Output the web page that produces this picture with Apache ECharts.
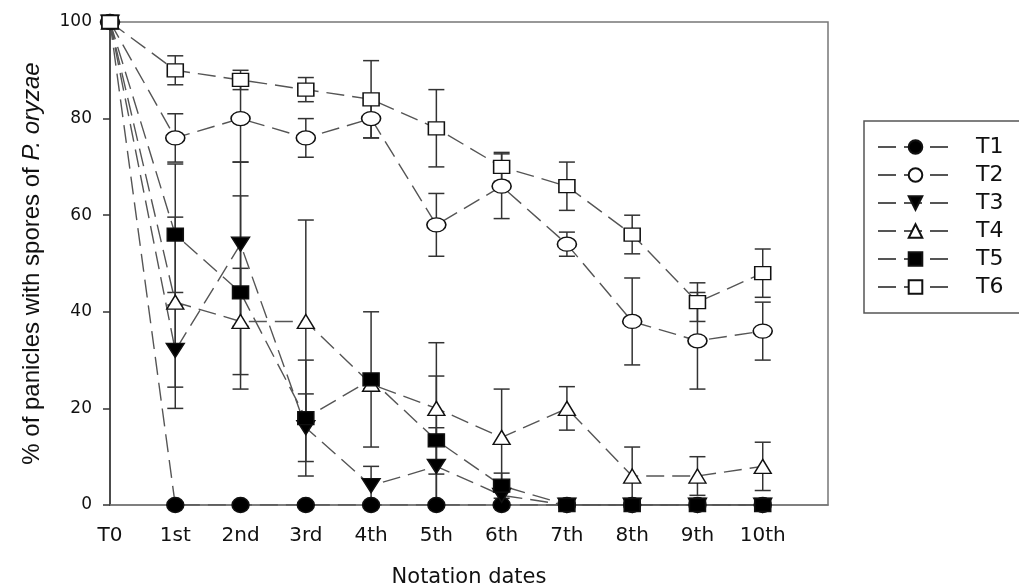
<!DOCTYPE html>
<html>
<head>
  <meta charset="utf-8" />
  <script src="https://cdn.jsdelivr.net/npm/echarts@6/dist/echarts.min.js"></script>
</head>
<body style="margin:0">
  <div id="main" style="width:1019px;height:588px;"></div>
  <script type="text/javascript">
    // notation dates on the x axis
    var dates = ['T0', '1st', '2nd', '3rd', '4th', '5th', '6th', '7th', '8th', '9th', '10th'];
    var yTicks = [0, 20, 40, 60, 80, 100];

    // % of panicles
    var t1 = [100, 0, 0, 0, 0, 0, 0, 0, 0, 0, 0];
    var t2 = [100, 76, 80, 76, 80, 58, 66, 54, 38, 34, 36];
    var t3 = [100, 32, 54, 16, 4, 8, 2, 0, 0, 0, 0];
    var t4 = [100, 42, 38, 38, 25, 20, 14, 20, 6, 6, 8];
    var t5 = [100, 56, 44, 18, 26, 13.4, 4, 0, 0, 0, 0];
    var t6 = [100, 90, 88, 86, 84, 78, 70, 66, 56, 42, 48];

    // error bars (+/-)
    var e1 = [0, 0, 0, 0, 0, 0, 0, 0, 0, 0, 0];
    var e2 = [0, 5, 9, 4, 4, 6.5, 6.7, 2.5, 9, 10, 6];
    var e3 = [0, 12, 17, 7, 4, 8, 2, 0, 0, 0, 0];
    var e4 = [0, 17.6, 11, 21, 1, 13.6, 10, 4.5, 6, 4, 5];
    var e5 = [0, 14.6, 20, 12, 14, 13.3, 2.6, 0, 0, 0, 0];
    var e6 = [0, 3, 2, 2.5, 8, 8, 3, 5, 4, 4, 5];

    var groups = [
      { name: 'T1', val: t1, err: e1, symbol: 'circle', size: [17, 15], fill: '#000', rot: 0 },
      { name: 'T2', val: t2, err: e2, symbol: 'circle', size: [19, 14], fill: '#fff', rot: 0 },
      { name: 'T3', val: t3, err: e3, symbol: 'triangle', size: [18, 14], fill: '#000', rot: 180 },
      { name: 'T4', val: t4, err: e4, symbol: 'triangle', size: [17, 14], fill: '#fff', rot: 0 },
      { name: 'T5', val: t5, err: e5, symbol: 'rect', size: [16, 13], fill: '#000', rot: 0 },
      { name: 'T6', val: t6, err: e6, symbol: 'rect', size: [16, 13], fill: '#fff', rot: 0 }
    ];

    var errData = [];
    groups.forEach(function (g) {
      g.val.forEach(function (v, i) {
        if (g.err[i] > 0) {
          errData.push([i, Math.max(0, v - g.err[i]), v + g.err[i]]);
        }
      });
    });

    var series = [{
      type: 'custom',
      z: 1,
      silent: true,
      data: errData,
      renderItem: function (params, api) {
        var x = api.value(0);
        var top = api.coord([x, api.value(2)]);
        var bot = api.coord([x, api.value(1)]);
        var w = 8;
        var st = { stroke: '#333', lineWidth: 1.5 };
        return {
          type: 'group',
          children: [
            { type: 'line', shape: { x1: top[0], y1: top[1], x2: bot[0], y2: bot[1] }, style: st },
            { type: 'line', shape: { x1: top[0] - w, y1: top[1], x2: top[0] + w, y2: top[1] }, style: st },
            { type: 'line', shape: { x1: bot[0] - w, y1: bot[1], x2: bot[0] + w, y2: bot[1] }, style: st }
          ]
        };
      }
    }];

    groups.forEach(function (g) {
      series.push({
        name: g.name,
        type: 'line',
        z: 3,
        data: g.val.map(function (v, i) { return [i, v]; }),
        symbol: g.symbol,
        symbolSize: g.size,
        symbolRotate: g.rot,
        showAllSymbol: true,
        itemStyle: { color: g.fill, borderColor: '#111', borderWidth: 1.4 },
        lineStyle: { color: '#555', width: 1.4, type: [18, 8] }
      });
    });

    var myChart = echarts.init(document.getElementById('main'));
    var option = {
      animation: false,
      backgroundColor: '#fff',
      grid: {
        left: 110, top: 22, right: 191, bottom: 83,
        outerBoundsMode: 'none',
        show: true, borderColor: '#777', borderWidth: 1.5
      },
      legend: {
        data: groups.map(function (g) { return g.name; }),
        orient: 'vertical',
        left: 864,
        top: 121,
        itemWidth: 75,
        itemHeight: 17,
        itemGap: 6,
        padding: [15, 60, 15, 13],
        borderColor: '#555',
        borderWidth: 1.5,
        textStyle: { fontFamily: 'DejaVu Sans', fontSize: 22, color: '#111', padding: [0, 0, 0, 18] }
      },
      xAxis: {
        type: 'value',
        min: 0,
        max: 11,
        interval: 1,
        name: 'Notation dates',
        nameLocation: 'middle',
        nameGap: 62,
        nameTextStyle: { fontFamily: 'DejaVu Sans', fontSize: 21, color: '#111' },
        axisLine: { show: true, lineStyle: { color: '#777', width: 1.5 } },
        axisTick: { show: false },
        splitLine: { show: false },
        axisLabel: {
          margin: 21,
          fontFamily: 'DejaVu Sans',
          fontSize: 20,
          color: '#111',
          formatter: function (v) { return dates[v] || ''; }
        }
      },
      yAxis: {
        type: 'value',
        min: yTicks[0],
        max: yTicks[yTicks.length - 1],
        interval: 20,
        name: '% of panicles with spores of {i|P. oryzae}',
        nameLocation: 'middle',
        nameGap: 66,
        nameTextStyle: {
          fontFamily: 'Liberation Sans', fontSize: 24, color: '#111',
          rich: { i: { fontFamily: 'Liberation Sans', fontSize: 24, fontStyle: 'italic', color: '#111' } }
        },
        axisLine: { show: true, lineStyle: { color: '#333', width: 1.5 } },
        axisTick: { show: true, length: 7, lineStyle: { color: '#333', width: 1.5 } },
        splitLine: { show: false },
        axisLabel: { margin: 18, fontFamily: 'DejaVu Sans', fontSize: 17, color: '#111' }
      },
      series: series
    };
    myChart.setOption(option);
  </script>
</body>
</html>
